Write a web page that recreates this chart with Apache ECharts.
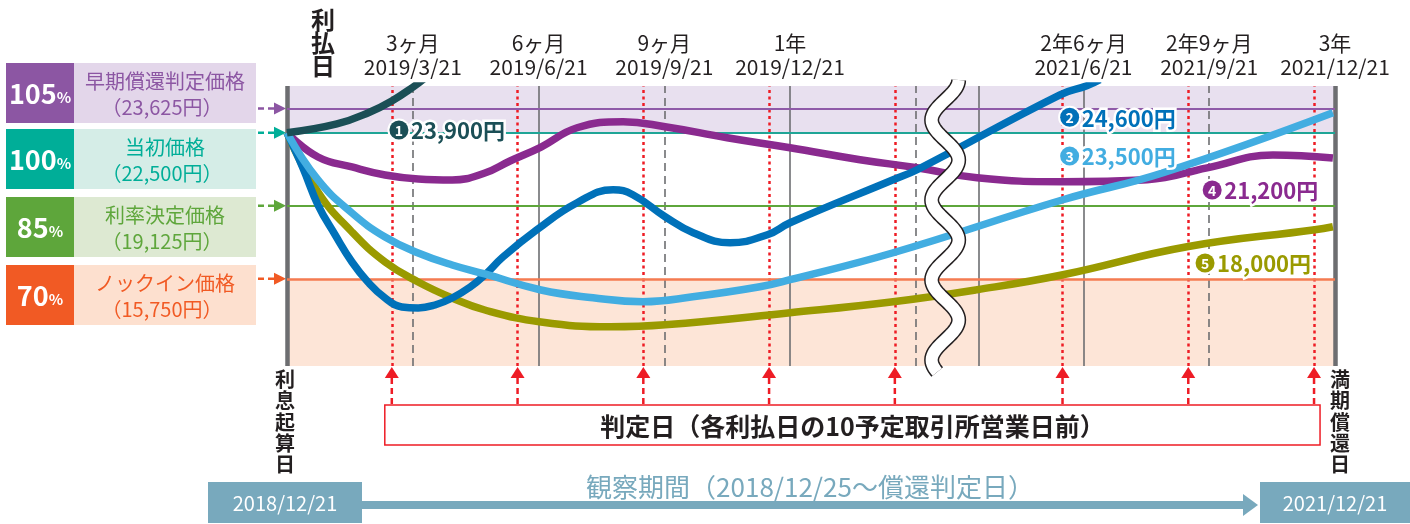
<!DOCTYPE html>
<html>
<head>
<meta charset="utf-8">
<title>早期償還・ノックイン判定イメージ</title>
<script src="https://cdn.jsdelivr.net/npm/echarts@6.0.0/dist/echarts.min.js"></script>
<style>
html, body { margin: 0; padding: 0; background: #fff; }
#chart { width: 1410px; height: 524px; }
</style>
</head>
<body>
<div id="chart"></div>
<script>
// 判定水準（当初価格比 %）
var levelPct = [105, 100, 85, 70];
var levelName = ['早期償還判定価格', '当初価格', '利率決定価格', 'ノックイン価格'];
var levelYen = ['（23,625円）', '（22,500円）', '（19,125円）', '（15,750円）'];

// 横軸：途中を省略した月数（0 = 2018/12/21 利息起算日, 25 = 2021/12/21 満期償還日）
var judgeDays = [2.5, 5.5, 8.5, 11.5, 14.5, 18.5, 21.5, 24.5];
var dashedDays = [3, 9, 15, 22];
var solidDays = [6, 12, 16.5, 19];
var breakDay = 15.7;

var periodDays = [3, 6, 9, 12, 19, 22, 25];
var periodNames = ['3ヶ月', '6ヶ月', '9ヶ月', '1年', '2年6ヶ月', '2年9ヶ月', '3年'];
var periodDates = ['2019/3/21', '2019/6/21', '2019/9/21', '2019/12/21', '2021/6/21', '2021/9/21', '2021/12/21'];

// 株価推移シナリオ ❶〜❺  [月数, 当初価格比%]
var path1 = [[0, 100], [1.19, 101.8], [1.98, 104.26], [2.5, 106.52], [3.01, 109.4], [3.29, 111.24]];
var path2 = [[0, 100], [0.38, 92.76], [0.74, 85.16], [1.15, 79.0], [1.55, 73.46], [1.93, 69.35], [2.34, 66.06],
    [2.74, 64.22], [3.13, 64.01], [3.53, 64.63], [3.94, 66.06], [4.37, 68.32], [4.72, 70.79], [5.15, 74.48],
    [5.96, 80.08], [6.92, 85.63], [7.78, 88.3], [8.25, 87.27], [9.02, 82.75], [9.69, 79.47], [10.57, 77.41],
    [11.46, 79.06], [12.0, 81.52], [14.46, 90.35], [15.03, 92.4], [18.44, 107.8], [19.08, 109.65], [19.39, 110.88]];
var path3 = [[0, 100], [0.74, 90.3], [1.55, 83.52], [2.34, 78.59], [3.13, 75.31], [3.94, 72.84], [4.72, 71.0],
    [6.06, 67.71], [7.3, 66.12], [8.49, 65.3], [9.68, 66.32], [11.28, 68.38], [12.0, 69.82], [14.46, 75.36],
    [18.51, 86.24], [20.9, 91.79], [24.95, 104.11]];
var path4 = [[0, 100], [0.74, 95.02], [1.55, 92.97], [2.34, 91.32], [3.13, 90.5], [3.94, 90.3],
    [4.72, 91.73], [5.32, 94.2], [6.06, 97.07], [6.92, 101.03], [8.02, 102.26], [9.02, 101.23], [10.5, 98.97],
    [12.0, 96.92], [13.67, 94.46], [15.03, 92.81], [16.46, 90.76], [18.51, 89.94], [20.52, 90.35], [21.95, 92.8],
    [23.52, 95.43], [24.95, 94.8]];
var path5 = [[0, 100], [0.74, 87.83], [1.55, 79.62], [2.34, 73.46], [3.13, 69.35], [3.94, 66.06], [4.72, 63.6],
    [6.06, 61.14], [7.71, 60.16], [9.02, 60.57], [12.0, 63.04], [14.46, 65.3], [16.46, 67.76], [18.51, 70.84],
    [21.47, 76.59], [24.52, 80.08], [24.95, 80.7]];
var scenarioPrice = ['23,900円', '24,600円', '23,500円', '21,200円', '18,000円'];

// ---- 見た目の設定 ----
var FONT = '"Noto Sans CJK JP", "Noto Sans", sans-serif';
var yMin = 52.1, yMax = 109.6;
var pathColor = ['#1b4f56', '#0071b9', '#42ade1', '#8a2a8f', '#9a9a00'];
var boxColor = ['#8c56a3', '#00ae98', '#5ea63b', '#f15a24'];
var boxLight = ['#e3d6ea', '#d5ede7', '#dde9d2', '#fde0cf'];
var lineColor = ['#8f5aa8', '#1fa596', '#5ea63b', '#f47b52'];
var rowTop = [63, 129, 197, 265];
var calloutAt = [[2.67, 100.56], [18.67, 103.2], [18.67, 95.2], [22.07, 88.24], [21.9, 73.25]];
var obsColor = '#78a9bd';
var red = '#ee1c25';

function txt(x, y, text, size, color, opt) {
    opt = opt || {};
    return {
        type: 'text', x: x, y: y, z: opt.z || 60,
        style: {
            text: text, fontSize: size, fontFamily: FONT, fontWeight: opt.weight || 'normal',
            fill: color, align: opt.align || 'center', verticalAlign: opt.valign || 'middle',
            lineHeight: opt.lineHeight, stroke: opt.stroke, lineWidth: opt.lineWidth, rich: opt.rich
        }
    };
}

var chart = echarts.init(document.getElementById('chart'));

var lineSeries = [path1, path2, path3, path4, path5].map(function(p, i) {
    return {
        type: 'line', data: p, smooth: 0.45, symbol: 'none', z: [14, 12, 13, 11, 10][i],
        lineStyle: { color: pathColor[i], width: 7.5 }
    };
});

var vLines = [];
judgeDays.forEach(function(d) {
    vLines.push({ xAxis: d, lineStyle: { color: red, width: 2.5, type: [3, 3.5] } });
});
dashedDays.forEach(function(d) {
    vLines.push({ xAxis: d, lineStyle: { color: '#6d6e71', width: 1.6, type: [8, 5] } });
});
solidDays.forEach(function(d) {
    vLines.push({ xAxis: d, lineStyle: { color: '#6d6e71', width: 1.6, type: 'solid' } });
});
[0, 25].forEach(function(d) {
    vLines.push({ xAxis: d, lineStyle: { color: '#6d6e71', width: 4.5, type: 'solid' } });
});
levelPct.forEach(function(v, i) {
    vLines.push({ yAxis: v, lineStyle: { color: lineColor[i], width: i === 3 ? 2.5 : 2, type: 'solid' } });
});

var option = {
    animation: false,
    grid: { left: 287, right: 75, top: 86, bottom: 158 },
    xAxis: { type: 'value', min: 0, max: 25, show: false },
    yAxis: { type: 'value', min: yMin, max: yMax, show: false },
    series: [{
        type: 'line', data: [[0, yMin]], symbol: 'none', lineStyle: { opacity: 0 }, silent: true,
        markArea: {
            silent: true,
            data: [
                [{ yAxis: 100, itemStyle: { color: '#e8e0ef' } }, { yAxis: yMax }],
                [{ yAxis: yMin, itemStyle: { color: '#fde5d7' } }, { yAxis: 70 }]
            ]
        },
        markLine: {
            silent: true, symbol: ['none', 'none'], label: { show: false },
            data: vLines
        }
    }].concat(lineSeries)
};
chart.setOption(option);

/**
 * 枠外の説明・波線・吹き出しを画面座標で組み立てる
 */
function buildGraphic() {
    var g = [];
    function pt(x, y) { return chart.convertToPixel({ gridIndex: 0 }, [x, y]); }
    var top = pt(0, yMax)[1], bottom = pt(0, yMin)[1];

    // 左の水準ボックス
    levelPct.forEach(function(v, i) {
        var t = rowTop[i];
        g.push({ type: 'rect', shape: { x: 6, y: t, width: 68, height: 60 }, style: { fill: boxColor[i] } });
        g.push({ type: 'rect', shape: { x: 74, y: t, width: 182, height: 60 }, style: { fill: boxLight[i] } });
        g.push(txt(40, t + 31, '{a|' + v + '}{b|%}', 26, '#fff', {
            rich: { a: { fontSize: 27, fontWeight: 'bold', fontFamily: FONT, fill: '#fff' },
                    b: { fontSize: 15, fontWeight: 'bold', fontFamily: FONT, fill: '#fff', padding: [6, 0, 0, 0] } }
        }));
        g.push(txt(165, t + 18, levelName[i], 20, boxColor[i]));
        g.push(txt(162, t + 44, levelYen[i], 20, boxColor[i]));
        var ly = pt(0, v)[1];
        g.push({ type: 'line', shape: { x1: 258, y1: ly, x2: 275, y2: ly }, style: { stroke: boxColor[i], lineWidth: 2.5, lineDash: [6, 4] } });
        g.push({ type: 'polygon', shape: { points: [[274, ly - 6], [286, ly], [274, ly + 6]] }, style: { fill: boxColor[i] } });
    });

    // 上部の見出し
    g.push(txt(pt(0, 0)[0] + 36, 8, '利\n払\n日', 24, '#231f20', { weight: 'bold', valign: 'top', lineHeight: 23 }));
    periodDays.forEach(function(d, i) {
        var x = pt(d, 0)[0];
        g.push(txt(x, 43, periodNames[i], 21, '#231f20'));
        g.push(txt(x, 67, periodDates[i], 21, '#231f20'));
    });

    // 波線（期間の省略）
    var wx = pt(breakDay, 0)[0];
    var wave = [];
    for (var y = top - 6; y <= bottom + 7; y += 2) {
        wave.push([wx + 13.5 * Math.cos((y - (top - 6)) / 80 * 2 * Math.PI), y]);
    }
    g.push({ type: 'polyline', z: 50, shape: { points: wave }, style: { stroke: '#231f20', lineWidth: 15, fill: null } });
    g.push({ type: 'polyline', z: 51, shape: { points: wave }, style: { stroke: '#fff', lineWidth: 12, fill: null } });

    // シナリオの吹き出し
    calloutAt.forEach(function(c, i) {
        var p = pt(c[0], c[1]);
        g.push({ type: 'circle', z: 60, shape: { cx: p[0], cy: p[1], r: 11.5 }, style: { fill: '#fff' } });
        g.push({ type: 'circle', z: 61, shape: { cx: p[0], cy: p[1], r: 9.5 }, style: { fill: pathColor[i] } });
        g.push(txt(p[0], p[1] + 1, String(i + 1), 14, '#fff', { weight: 'bold', z: 62 }));
        g.push(txt(p[0] + 12, p[1] + 1, scenarioPrice[i], 22, '#fff', { weight: 'bold', align: 'left', stroke: '#fff', lineWidth: 5, z: 60 }));
        g.push(txt(p[0] + 12, p[1] + 1, scenarioPrice[i], 22, pathColor[i], { weight: 'bold', align: 'left', z: 62 }));
    });

    // 判定日の矢印と枠
    judgeDays.forEach(function(d) {
        var x = pt(d, 0)[0];
        g.push({ type: 'polygon', shape: { points: [[x - 7, bottom + 12], [x, bottom + 1], [x + 7, bottom + 12]] }, style: { fill: red } });
        g.push({ type: 'line', shape: { x1: x, y1: bottom + 12, x2: x, y2: 405 }, style: { stroke: red, lineWidth: 2.5, lineDash: [6, 4] } });
    });
    var bx0 = pt(judgeDays[0], 0)[0] - 7, bx1 = pt(judgeDays[judgeDays.length - 1], 0)[0] + 6;
    g.push({ type: 'rect', shape: { x: bx0, y: 405, width: bx1 - bx0, height: 40 }, style: { fill: '#fff', stroke: red, lineWidth: 1.5 } });
    g.push(txt((bx0 + bx1) / 2, 426, '判定日（各利払日の10予定取引所営業日前）', 25, '#231f20', { weight: 'bold' }));

    // 利息起算日・満期償還日
    g.push(txt(pt(0, 0)[0] - 2, 369, '利\n息\n起\n算\n日', 20, '#231f20', { weight: 'bold', valign: 'top', lineHeight: 21.2 }));
    g.push(txt(pt(25, 0)[0] + 5, 369, '満\n期\n償\n還\n日', 20, '#231f20', { weight: 'bold', valign: 'top', lineHeight: 21.2 }));

    // 観察期間
    g.push({ type: 'rect', shape: { x: 208, y: 482, width: 154, height: 41 }, style: { fill: obsColor } });
    g.push({ type: 'rect', shape: { x: 1260, y: 482, width: 150, height: 41 }, style: { fill: obsColor } });
    g.push(txt(285, 503, '2018/12/21', 20, '#fff'));
    g.push(txt(1335, 503, '2021/12/21', 20, '#fff'));
    g.push({ type: 'rect', shape: { x: 362, y: 501, width: 884, height: 8 }, style: { fill: obsColor } });
    g.push({ type: 'polygon', shape: { points: [[1243, 494], [1258, 505], [1243, 516]] }, style: { fill: obsColor } });
    g.push(txt(810, 487, '観察期間（2018/12/25〜償還判定日）', 26, obsColor));

    chart.setOption({ graphic: { elements: g } });
}

buildGraphic();
</script>
</body>
</html>
